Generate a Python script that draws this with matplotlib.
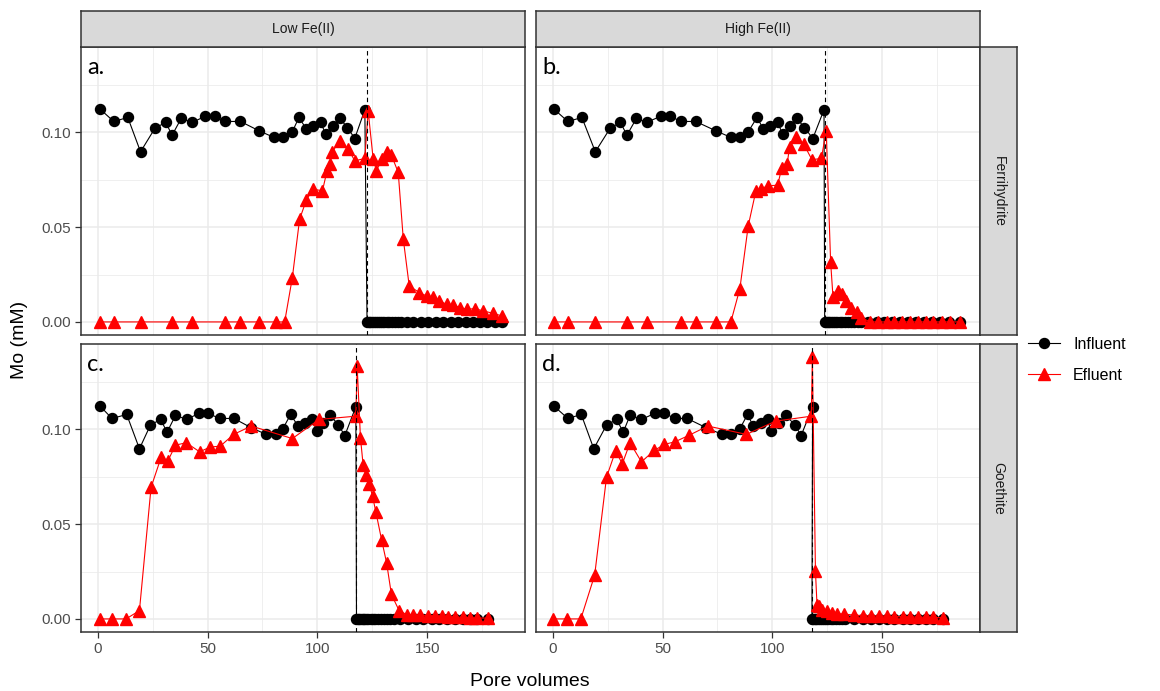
import matplotlib
matplotlib.use("Agg")
import matplotlib.pyplot as plt
from matplotlib.lines import Line2D
from matplotlib.ticker import MultipleLocator

# ---- data ----
# influent concentration before the switch, same feed for all four columns
inf_y_pre = [0.1123, 0.1058, 0.1079, 0.0898, 0.1023, 0.1053, 0.0986, 0.1074, 0.1053,
             0.1085, 0.1085, 0.1058, 0.1058, 0.1009, 0.0974, 0.0974, 0.1004, 0.1079,
             0.1018, 0.1032, 0.1053, 0.0991, 0.1035, 0.1074, 0.1026, 0.0968, 0.1120]

inf_x_a = [1.1, 7.3, 13.7, 19.5, 26.1, 30.9, 33.9, 38.0, 43.0, 48.9, 53.2, 58.1, 65.0, 73.4,
           80.2, 84.3, 88.6, 91.6, 95.0, 98.0, 101.5, 103.8, 107.1, 110.2, 113.7, 117.0, 121.6]
inf_x_b = [0.6, 6.9, 13.3, 19.4, 26.2, 30.8, 33.8, 38.1, 42.7, 49.1, 53.4, 58.5, 65.1, 74.2,
           81.1, 85.4, 89.0, 93.0, 95.9, 99.1, 102.4, 104.7, 107.8, 111.1, 114.6, 118.4, 123.5]
inf_x_c = [1.1, 6.5, 13.2, 19.0, 24.0, 28.6, 31.6, 35.4, 40.6, 46.0, 50.2, 55.5, 62.0, 69.9,
           76.7, 81.0, 84.3, 87.8, 91.2, 94.2, 97.6, 99.8, 102.6, 105.9, 109.4, 112.5, 117.5]
inf_x_d = [0.6, 6.9, 13.0, 18.7, 24.5, 29.1, 32.1, 35.2, 40.4, 46.5, 50.8, 55.7, 61.2, 69.9,
           77.1, 81.3, 85.2, 88.7, 91.3, 94.8, 97.9, 99.4, 102.8, 106.1, 110.1, 113.1, 118.3]

# influent samples after the switch (all 0 mM)
inf0_x_a = [122.6, 123.3, 124.0, 124.8, 125.6, 126.5, 127.4, 128.3, 129.3, 130.4, 131.5, 132.7,
            133.9, 135.2, 136.5, 138.0, 140.6, 143.6, 147.0, 150.5, 153.9, 157.3, 160.6, 164.1,
            167.5, 171.0, 174.0, 177.4, 180.8, 183.9]
inf0_x_b = [123.8, 124.4, 125.1, 125.9, 126.7, 127.6, 128.5, 129.5, 130.6, 131.8, 133.0, 134.3,
            135.7, 137.2, 138.8, 140.5, 143.6, 147.4, 150.9, 154.6, 158.1, 161.9, 165.2, 169.2,
            172.6, 176.4, 180.2, 185.5]
inf0_x_c = [117.8, 118.4, 119.1, 119.8, 120.6, 121.4, 122.3, 123.2, 124.2, 125.3, 126.4, 127.6,
            128.9, 130.2, 131.6, 133.1, 134.7, 137.5, 141.3, 144.8, 148.2, 152.0, 155.5, 158.8,
            162.6, 166.1, 169.5, 172.8, 177.8]
inf0_x_d = [118.0, 118.6, 119.3, 120.0, 120.8, 121.6, 122.5, 123.4, 124.4, 125.5, 126.6, 127.8,
            129.0, 130.3, 131.7, 133.2, 137.2, 141.3, 144.8, 148.6, 152.0, 155.5, 159.3, 162.7,
            166.2, 169.7, 173.1, 177.7]
inf0_y_a = [0.0] * 30
inf0_y_b = [0.0] * 28
inf0_y_c = [0.0] * 29
inf0_y_d = [0.0] * 28

eff_x_a = [1.1, 7.3, 19.5, 33.9, 43.0, 58.1, 65.0, 73.4, 81.0, 85.1, 88.6, 91.9, 95.0, 98.0,
           102.3, 104.4, 105.6, 106.8, 110.2, 114.0, 117.0, 121.6, 123.1, 125.4, 126.9, 129.2,
           131.5, 133.7, 136.8, 139.1, 141.8, 146.4, 149.7, 152.4, 155.5, 158.8, 161.9, 164.9,
           167.9, 171.7, 175.5, 179.8, 183.9]
eff_y_a = [0, 0, 0, 0, 0, 0, 0, 0, 0, 0, 0.0234, 0.0542, 0.0644, 0.0701, 0.0692, 0.0798, 0.0833,
           0.0898, 0.0956, 0.0915, 0.0850, 0.0863, 0.1114, 0.0859, 0.0798, 0.0859, 0.0898, 0.0880,
           0.0789, 0.0437, 0.0190, 0.0155, 0.0137, 0.0129, 0.0111, 0.0093, 0.0088, 0.0076, 0.0067,
           0.0070, 0.0058, 0.0046, 0.0032]

eff_x_b = [0.6, 6.9, 19.4, 33.8, 42.7, 58.5, 65.1, 74.2, 81.1, 85.2, 89.0, 92.5, 94.8, 98.2,
           102.4, 104.3, 106.7, 107.8, 110.8, 114.3, 118.0, 122.3, 124.5, 126.5, 127.6, 129.9,
           131.7, 133.7, 136.0, 138.3, 140.5, 144.4, 148.2, 152.0, 155.5, 158.8, 162.7, 166.2,
           169.8, 173.3, 177.1, 180.9, 185.5]
eff_y_b = [0, 0, 0, 0, 0, 0, 0, 0, 0, 0.0176, 0.0507, 0.0692, 0.0704, 0.0718, 0.0722, 0.0815,
           0.0833, 0.0921, 0.0974, 0.0938, 0.0856, 0.0863, 0.1009, 0.0317, 0.0129, 0.0164, 0.0146,
           0.0111, 0.0076, 0.0053, 0.0023, 0, 0, 0, 0, 0, 0, 0, 0, 0, 0, 0, 0]

eff_x_c = [1.1, 6.5, 12.9, 19.0, 24.3, 28.9, 31.9, 35.4, 40.3, 46.4, 51.2, 55.8, 61.9, 69.9,
           88.6, 100.8, 117.5, 118.1, 119.6, 120.8, 122.0, 123.6, 125.1, 126.6, 129.2, 131.5,
           133.7, 137.2, 140.6, 143.6, 146.7, 150.5, 153.5, 156.5, 159.6, 162.6, 166.1, 169.5,
           172.8, 177.8]
eff_y_c = [0, 0, 0, 0.0044, 0.0695, 0.0854, 0.0833, 0.0917, 0.0930, 0.0882, 0.0907, 0.0912,
           0.0974, 0.1018, 0.0952, 0.1053, 0.1070, 0.1335, 0.0956, 0.0815, 0.0762, 0.0713, 0.0648,
           0.0565, 0.0419, 0.0296, 0.0129, 0.0044, 0.0023, 0.0021, 0.0020, 0.0018, 0.0016, 0.0014,
           0.0012, 0.0010, 0.0008, 0.0006, 0.0005, 0.0004]

eff_x_d = [0.0, 6.4, 12.8, 19.1, 24.5, 28.6, 31.7, 35.2, 40.4, 46.2, 50.8, 55.7, 62.2, 70.6,
           88.2, 101.5, 117.7, 118.2, 119.6, 120.3, 121.4, 122.6, 124.9, 127.2, 129.5, 132.6,
           137.2, 141.3, 144.8, 148.6, 152.0, 155.5, 159.3, 162.7, 166.2, 169.7, 173.1, 177.7]
eff_y_d = [0, 0, 0, 0.0231, 0.0748, 0.0886, 0.0819, 0.0930, 0.0829, 0.0889, 0.0921, 0.0935,
           0.0970, 0.1018, 0.0974, 0.1044, 0.1070, 0.1382, 0.0252, 0.0076, 0.0067, 0.0049, 0.0040,
           0.0032, 0.0026, 0.0026, 0.0020, 0.0018, 0.0016, 0.0016, 0.0014, 0.0012, 0.0012, 0.0010,
           0.0010, 0.0008, 0.0008, 0.0006]

# pore volume where the feed was switched
switch_pv = [122.6, 123.8, 117.8, 118.0]

col_labels = ["Low Fe(II)", "High Fe(II)"]
row_labels = ["Ferrihydrite", "Goethite"]
panel_tags = ["a.", "b.", "c.", "d."]

panels = [
    (inf_x_a, inf0_x_a, inf0_y_a, eff_x_a, eff_y_a),
    (inf_x_b, inf0_x_b, inf0_y_b, eff_x_b, eff_y_b),
    (inf_x_c, inf0_x_c, inf0_y_c, eff_x_c, eff_y_c),
    (inf_x_d, inf0_x_d, inf0_y_d, eff_x_d, eff_y_d),
]

# ---- layout in pixels of the 1160x691 canvas ----
W, H = 1160, 691
col_left = [81, 536]
panel_w = 444
row_top = [47, 344]
panel_h = 288
strip_h = 36
strip_w = 37

GRID = "#EBEBEB"
BORDER = "#333333"
STRIP = "#D9D9D9"
TICKTXT = "#4D4D4D"
MS_CIRCLE = 7.2
MS_TRI = 8.0

fig = plt.figure(figsize=(W / 100, H / 100), dpi=100)
plt.rcParams["font.family"] = ["Liberation Sans", "DejaVu Sans"]


def rect(left, top, w, h):
    return [left / W, 1 - (top + h) / H, w / W, h / H]


for i, (ix, i0x, i0y, ex, ey) in enumerate(panels):
    r, c = divmod(i, 2)
    ax = fig.add_axes(rect(col_left[c], row_top[r], panel_w, panel_h))
    ax.set_xlim(-7.6, 194.5)
    ax.set_ylim(-0.0069, 0.1451)
    ax.xaxis.set_major_locator(MultipleLocator(50))
    ax.xaxis.set_minor_locator(MultipleLocator(25))
    ax.yaxis.set_major_locator(MultipleLocator(0.05))
    ax.yaxis.set_minor_locator(MultipleLocator(0.025))
    ax.grid(True, which="major", color=GRID, lw=1.1, zorder=0)
    ax.grid(True, which="minor", color=GRID, lw=0.55, zorder=0)
    ax.set_axisbelow(True)
    for s in ax.spines.values():
        s.set_color(BORDER)
        s.set_linewidth(1.1)
    ax.tick_params(which="minor", length=0)
    ax.tick_params(which="major", direction="out", length=4, width=0.9, color=BORDER,
                   labelsize=11, labelcolor=TICKTXT, pad=3)
    ax.yaxis.set_major_formatter(plt.FuncFormatter(lambda v, p: f"{v:.2f}"))
    if r == 0:
        ax.tick_params(axis="x", length=0, labelbottom=False)
    if c == 1:
        ax.tick_params(axis="y", length=0, labelleft=False)

    inf_x = ix + i0x
    inf_y = inf_y_pre + i0y
    ax.plot(inf_x, inf_y, color="black", lw=0.8, marker="o", ms=MS_CIRCLE, zorder=3)
    ax.plot(ex, ey, color="#FF0000", lw=0.8, marker="^", ms=MS_TRI, zorder=4)
    ax.axvline(switch_pv[i], color="black", lw=0.8, ls=(0, (4, 3)), zorder=5)

    ax.text(0.014, 0.965, panel_tags[i], transform=ax.transAxes, ha="left", va="top",
            fontsize=17, family=["Lato", "DejaVu Sans"], color="black")

    # facet strips
    if r == 0:
        sa = fig.add_axes(rect(col_left[c], row_top[0] - strip_h, panel_w, strip_h))
        sa.set_facecolor(STRIP)
        sa.set_xticks([])
        sa.set_yticks([])
        for s in sa.spines.values():
            s.set_color(BORDER)
            s.set_linewidth(1.1)
        sa.text(0.5, 0.5, col_labels[c], ha="center", va="center", fontsize=10,
                color="#1A1A1A", transform=sa.transAxes)
    if c == 1:
        sb = fig.add_axes(rect(col_left[1] + panel_w, row_top[r], strip_w, panel_h))
        sb.set_facecolor(STRIP)
        sb.set_xticks([])
        sb.set_yticks([])
        for s in sb.spines.values():
            s.set_color(BORDER)
            s.set_linewidth(1.1)
        sb.text(0.5, 0.5, row_labels[r], ha="center", va="center", rotation=-90,
                fontsize=10, color="#1A1A1A", transform=sb.transAxes)

fig.text(530 / W, 1 - 681 / H, "Pore volumes", ha="center", va="center", fontsize=14)
fig.text(20 / W, 1 - 340 / H, "Mo (mM)", ha="center", va="center", rotation=90, fontsize=14)

handles = [
    Line2D([], [], color="black", lw=0.8, marker="o", ms=MS_CIRCLE),
    Line2D([], [], color="#FF0000", lw=0.8, marker="^", ms=MS_TRI),
]
fig.legend(handles, ["Influent", "Efluent"], loc="center left",
           bbox_to_anchor=(1014 / W, 1 - 360 / H), frameon=False, fontsize=11.5,
           handlelength=2.0, handletextpad=0.8, labelspacing=1.0)

fig.savefig("out.png", dpi=100)
